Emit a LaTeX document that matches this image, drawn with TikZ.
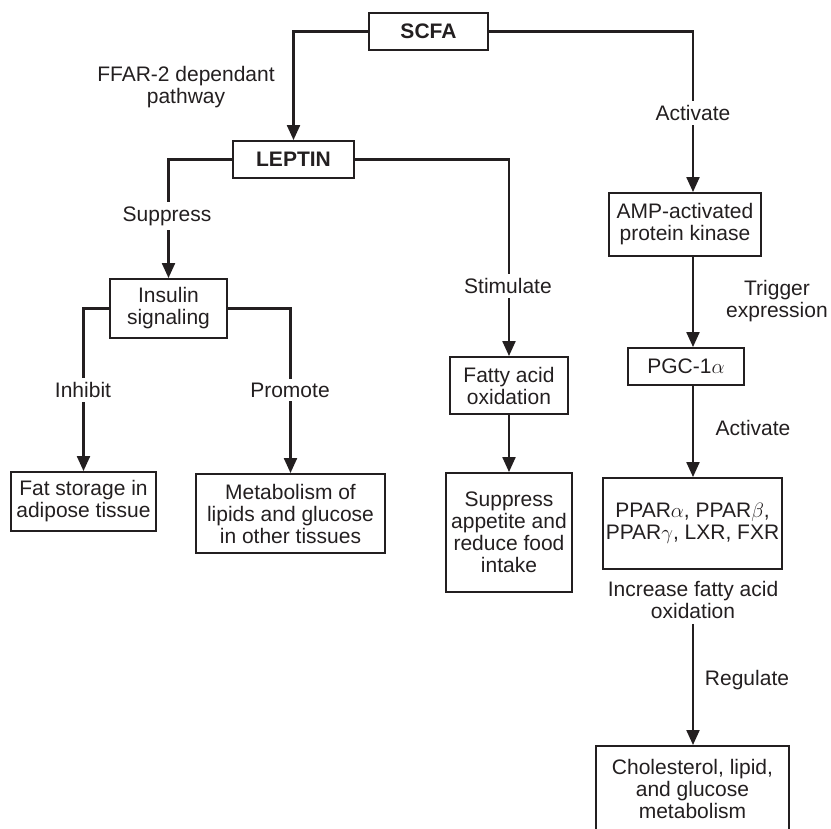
\documentclass[tikz,border=0pt]{standalone}
\usepackage{fontspec}
\setmainfont{Liberation Sans}
\usetikzlibrary{arrows.meta,calc}
\definecolor{ink}{HTML}{231F20}
\begin{document}
\begin{tikzpicture}[x=1pt,y=-1pt,
  font=\fontsize{21}{22}\selectfont,
  box/.style={draw=ink, line width=1.9pt, inner sep=0pt, align=center, text=ink},
  lbl/.style={fill=white, inner sep=4pt, align=center, text=ink},
  note/.style={inner sep=0pt, align=center, text=ink},
  link/.style={draw=ink, line width=2.2pt, -{Triangle[length=15pt,width=13pt]}}]
\useasboundingbox (0,0) rectangle (831,829);
% boxes
\node[box, minimum width=119pt, minimum height=37pt] (scfa) at (428.5,31.5) {\bfseries SCFA};
\node[box, minimum width=121pt, minimum height=37pt] (leptin) at (293.5,159.5) {\bfseries LEPTIN};
\node[box, minimum width=152pt, minimum height=63pt] (amp) at (685,224.5) {AMP-activated\\protein kinase};
\node[box, minimum width=116pt, minimum height=37pt] (pgc) at (686,366.5) {PGC-1$\alpha$};
\node[box, minimum width=179pt, minimum height=91pt] (ppar) at (692.5,523.5) {PPAR$\alpha$, PPAR$\beta$,\\PPAR$\gamma$, LXR, FXR};
\node[note, inner sep=5pt] (incr) at (693,600) {Increase fatty acid\\oxidation};
\node[box, minimum width=193pt, minimum height=120pt, anchor=north] (chol) at (692.5,745) {};
\node[note] (choltext) at (692.5,789) {Cholesterol, lipid,\\and glucose\\metabolism};
\node[box, minimum width=117pt, minimum height=59pt] (insulin) at (168.5,308.5) {Insulin\\signaling};
\node[box, minimum width=145pt, minimum height=59pt] (fat) at (83.5,501.5) {Fat storage in\\adipose tissue};
\node[box, minimum width=189pt, minimum height=79pt] (metab) at (290.5,513.5) {Metabolism of\\lipids and glucose\\in other tissues};
\node[box, minimum width=118pt, minimum height=57pt] (fao) at (509,385.5) {Fatty acid\\oxidation};
\node[box, minimum width=126pt, minimum height=119pt] (supp) at (509,532.5) {Suppress\\appetite and\\reduce food\\intake};
% connectors
\coordinate (spine) at (693,0);
\draw[link] (scfa.west) -| (leptin.north);
\draw[link] (scfa.east) -| (amp.north -| spine);
\draw[link] (leptin.west) -| (insulin.north);
\draw[link] (leptin.east) -| (fao.north);
\draw[link] (insulin.west) -| (fat.north);
\draw[link] (insulin.east) -| (metab.north);
\draw[link] (fao.south) -- (supp.north);
\draw[link] (amp.south -| spine) -- (pgc.north -| spine);
\draw[link] (pgc.south -| spine) -- (ppar.north -| spine);
\draw[link] (incr.south -| spine) -- (chol.north -| spine);
% labels
\node[lbl] (l-act1) at (693,113) {Activate};
\node[lbl] (l-supp) at (167,216) {Suppress};
\node[lbl] (l-stim) at (508,286) {Stimulate};
\node[lbl] (l-inh) at (83,390) {Inhibit};
\node[lbl] (l-prom) at (290,390) {Promote};
\node[note] (l-ffar) at (186,87) {FFAR-2 dependant\\pathway};
\node[note] (l-trig) at (777,301) {Trigger\\expression};
\node[note] (l-act2) at (753,428) {Activate};
\node[note] (l-reg) at (747,680) {Regulate};
\end{tikzpicture}
\end{document}
